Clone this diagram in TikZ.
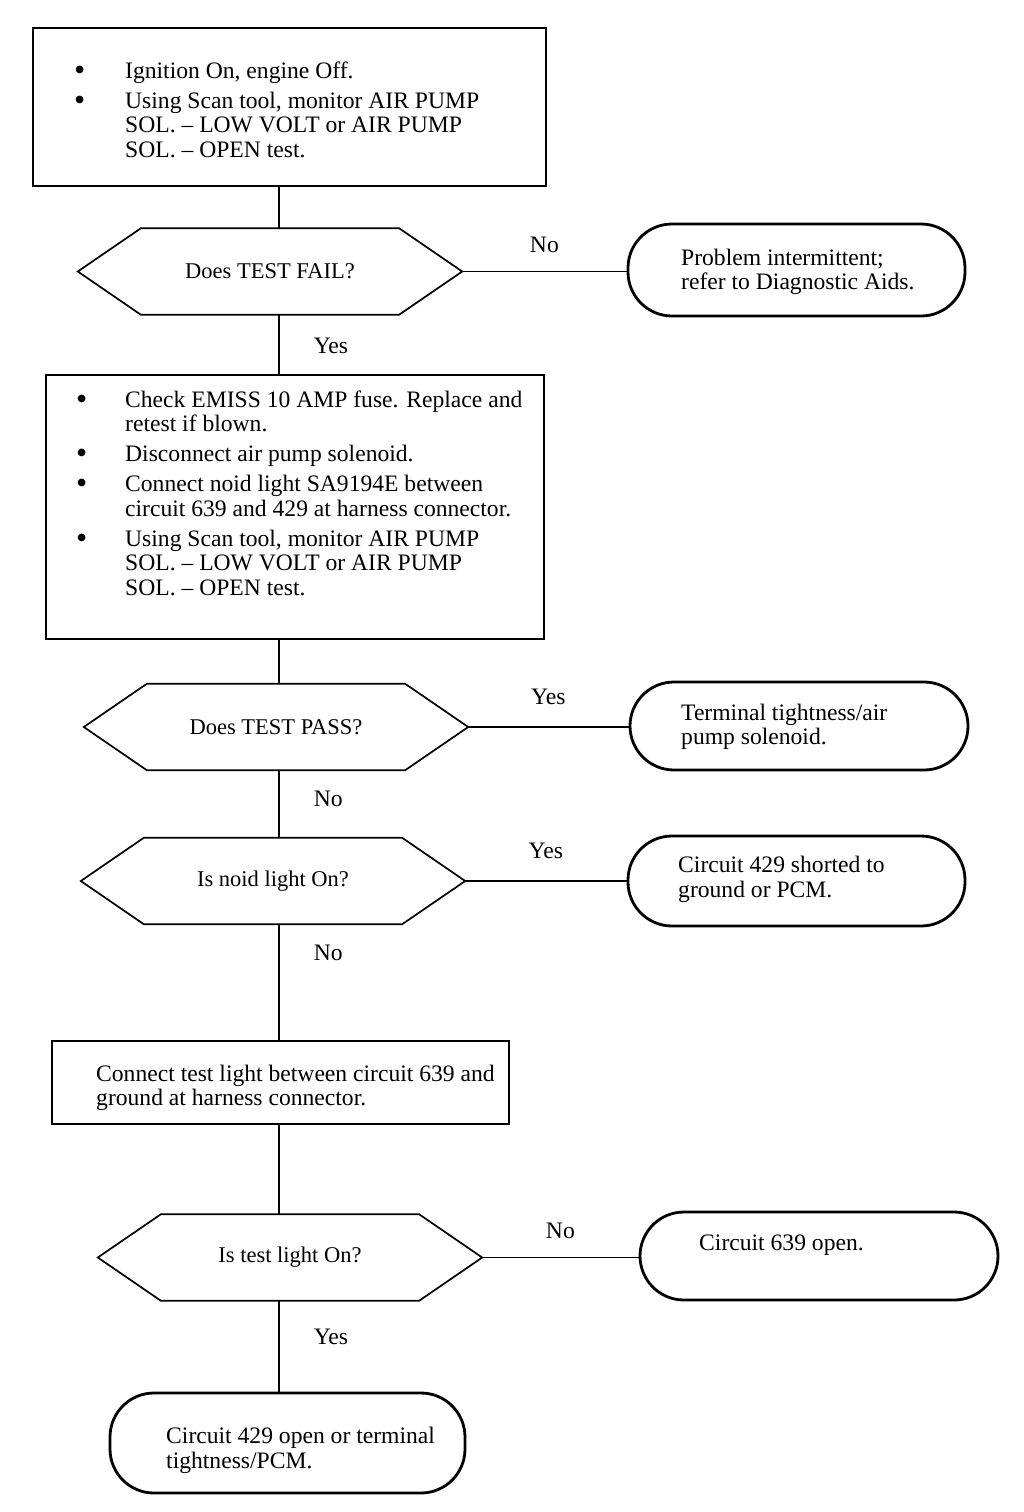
\documentclass[tikz,border=0pt]{standalone}
\usepackage{fontspec}
\setmainfont{Liberation Serif}
\usetikzlibrary{calc}

\tikzset{
  boxframe/.style={draw, line width=2.2pt},
  ovalframe/.style={draw, line width=2.8pt, rounded corners=44pt},
  hexq/.style={minimum width=258pt, minimum height=86pt, inner sep=0pt, font=\fontsize{22.5}{24.5}\selectfont},
  hexline/.style={line width=1.7pt, line join=miter},
  link/.style={line width=1.6pt},
  txt/.style={inner sep=0pt, align=left, anchor=west},
  lbl/.style={inner sep=0pt},
}

\newcommand{\blt}{\raisebox{-2pt}{\scalebox{1.35}{\textbullet}}}

\begin{document}
\begin{tikzpicture}[x=1pt, y=-1pt, font=\fontsize{23.6}{24.5}\selectfont]

\useasboundingbox (0,0) rectangle (1024,1512);
\coordinate (trunk) at (279,0);

% first step
\node[boxframe, minimum width=513pt, minimum height=158pt] (box1) at (289.5,107) {};
\node[txt] (box1t) at (74,113) {\begin{tabular}{@{}p{51pt}@{}l@{}}
\blt & Ignition On, engine Off.\\[5.5pt]
\blt & Using Scan tool, monitor AIR PUMP\\
     & SOL. – LOW VOLT or AIR PUMP\\
     & SOL. – OPEN test.
\end{tabular}};

\node[hexq] (q1) at (270,271.5) {Does TEST FAIL?};
\draw[hexline] (q1.north west) -- (q1.north east) -- ($(q1.east)+(63,0)$) coordinate (q1e)
  -- (q1.south east) -- (q1.south west) -- ($(q1.west)-(63,0)$) -- cycle;

\node[ovalframe, minimum width=337pt, minimum height=92pt] (r1) at (796.5,270) {};
\node[txt] (r1t) at (681,272) {Problem intermittent;\\refer to Diagnostic Aids.};

% second step
\node[boxframe, minimum width=498pt, minimum height=264pt] (box2) at (295,507) {};
\node[txt] (box2t) at (76,496.5) {\begin{tabular}{@{}p{49pt}@{}l@{}}
\blt & Check EMISS 10 AMP fuse. Replace and\\
     & retest if blown.\\[5.5pt]
\blt & Disconnect air pump solenoid.\\[5.5pt]
\blt & Connect noid light SA9194E between\\
     & circuit 639 and 429 at harness connector.\\[5.5pt]
\blt & Using Scan tool, monitor AIR PUMP\\
     & SOL. – LOW VOLT or AIR PUMP\\
     & SOL. – OPEN test.
\end{tabular}};

\node[hexq] (q2) at (276,727) {Does TEST PASS?};
\draw[hexline] (q2.north west) -- (q2.north east) -- ($(q2.east)+(63,0)$) coordinate (q2e)
  -- (q2.south east) -- (q2.south west) -- ($(q2.west)-(63,0)$) -- cycle;

\node[ovalframe, minimum width=338pt, minimum height=88pt] (r2) at (799,726) {};
\node[txt] (r2t) at (681,727) {Terminal tightness/air\\pump solenoid.};

\node[hexq] (q3) at (273,881) {Is noid light On?};
\draw[hexline] (q3.north west) -- (q3.north east) -- ($(q3.east)+(63,0)$) coordinate (q3e)
  -- (q3.south east) -- (q3.south west) -- ($(q3.west)-(63,0)$) -- cycle;

\node[ovalframe, minimum width=337pt, minimum height=90pt] (r3) at (796.5,881) {};
\node[txt] (r3t) at (678,879.5) {Circuit 429 shorted to\\ground or PCM.};

% third step
\node[boxframe, minimum width=457pt, minimum height=83pt] (box3) at (280.5,1082.5) {};
\node[txt] (box3t) at (96,1088) {Connect test light between circuit 639 and\\ground at harness connector.};

\node[hexq] (q4) at (290,1257.5) {Is test light On?};
\draw[hexline] (q4.north west) -- (q4.north east) -- ($(q4.east)+(63,0)$) coordinate (q4e)
  -- (q4.south east) -- (q4.south west) -- ($(q4.west)-(63,0)$) -- cycle;

\node[ovalframe, minimum width=358pt, minimum height=88pt] (r4) at (819,1256) {};
\node[txt] (r4t) at (699,1245) {Circuit 639 open.};

\node[ovalframe, minimum width=355pt, minimum height=100pt] (r5) at (287.5,1443) {};
\node[txt] (r5t) at (166,1450.5) {Circuit 429 open or terminal\\tightness/PCM.};

% connectors
\draw[link] (box1.south -| trunk) -- (q1.north -| trunk);
\draw[link] (q1e) -- (q1e -| r1.west) node[lbl, midway, above=18pt] {No};
\draw[link] (q1.south -| trunk) -- (box2.north -| trunk) node[lbl, pos=.53, right=34pt] {Yes};
\draw[link] (box2.south -| trunk) -- (q2.north -| trunk);
\draw[link] (q2e) -- (q2e -| r2.west) node[lbl, midway, above=21pt] {Yes};
\draw[link] (q2.south -| trunk) -- (q3.north -| trunk) node[lbl, pos=.43, right=34pt] {No};
\draw[link] (q3e) -- (q3e -| r3.west) node[lbl, midway, above=21pt] {Yes};
\draw[link] (q3.south -| trunk) -- (box3.north -| trunk) node[lbl, pos=.25, right=34pt] {No};
\draw[link] (box3.south -| trunk) -- (q4.north -| trunk);
\draw[link] (q4e) -- (q4e -| r4.west) node[lbl, midway, above=18pt] {No};
\draw[link] (q4.south -| trunk) -- (r5.north -| trunk) node[lbl, pos=.4, right=34pt] {Yes};

\end{tikzpicture}
\end{document}
